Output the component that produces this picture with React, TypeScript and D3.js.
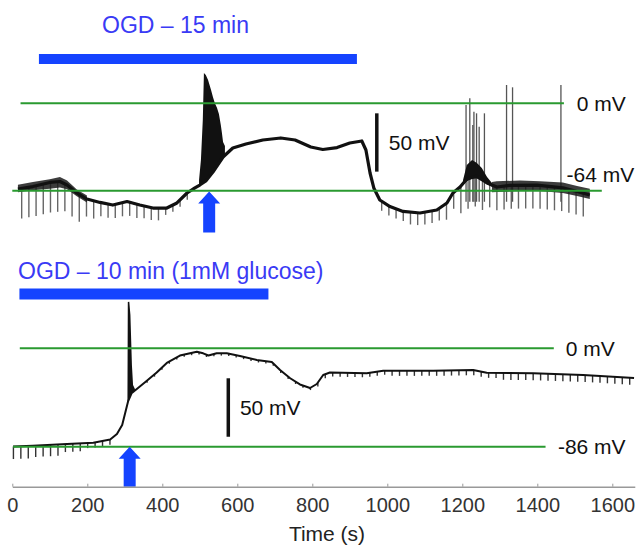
import { useEffect, useRef } from "react";
import * as d3 from "d3";

type P = [number, number];
type B = [number, number, number];

// top recording (OGD 15 min): [time s, membrane potential mV]
const topTrace: P[] = [
  [15, -62.7], [55, -60.9], [100, -57.9], [127, -57.2], [146, -59.8], [172, -65.6],
  [199, -70.0], [234, -72.5], [268, -74.4], [306, -71.8], [340, -74.4], [375, -76.6],
  [412, -76.6], [439, -72.9], [466, -65.6], [487, -61.9], [500, -59.8], [516, -56.8],
  [535, -50.3], [562, -39.3], [588, -32.7], [623, -29.8], [668, -26.9], [716, -25.4],
  [754, -26.9], [796, -32.0], [828, -33.8], [866, -32.4], [900, -29.1], [932, -27.6],
  [943, -34.2], [954, -51.0], [964, -61.9], [980, -70.7], [1007, -75.5], [1042, -79.1],
  [1087, -80.2], [1132, -78.0], [1159, -72.9], [1175, -65.6], [1194, -61.2], [1212, -55.4],
  [1239, -53.2], [1266, -58.3], [1292, -61.2], [1327, -60.1], [1399, -59.8], [1468, -61.9],
  [1506, -64.5], [1540, -67.1],
];
// burst of spikes at the anoxic depolarization: [t, lower, upper]
const topBurst: B[] = [
  [498, -61, -56.1], [503, -59.5, -41.5], [508, -58.5, -12.3], [511, -57.8, 22.1],
  [516, -56.8, 20.6], [522, -55, 16.9], [530, -52.5, 9.6], [535, -50.3, 4.5],
  [540, -47.5, 0.1], [546, -45, -3.5], [551, -43.5, -7.9], [556, -41.5, -15.9],
  [559, -40.5, -21.8], [562, -39.3, -28.3], [567, -37, -31.3],
];
const topBurstLate: B[] = [
  [1202, -60, -56.1], [1212, -57, -45.1], [1226, -55, -41.5], [1239, -55, -43.7],
  [1252, -57, -47.3], [1266, -59, -53.9], [1279, -61, -58.3],
];
// noisy stretches of the trace: [t, lower, upper]
const topNoiseEarly: B[] = [
  [15, -65, -59.5], [55, -63.6, -57.5], [100, -62.5, -55.5], [127, -61.5, -54],
  [146, -62.8, -56.5], [172, -68, -63], [199, -72.5, -67.5],
];
const topNoiseLate: B[] = [
  [1279, -65, -57.5], [1292, -64.9, -57], [1354, -64.1, -56.5], [1407, -64.1, -57],
  [1468, -65.6, -58], [1506, -67.8, -60.5], [1540, -70.0, -62.5],
];
// single action potentials: [t, peak mV]
const topSpikes: P[] = [
  [1210, -1.3], [1220, 3.6], [1228, -15.9], [1231, -6.2], [1238, -7.4], [1245, -17.2],
  [1259, -7.4], [1318, 13.3], [1334, 11.6], [1463, 13.3],
];
// hyperpolarizing test pulses: response depth (mV) by period
const topPulseStart = 25;
const topPulseEvery = 19.2;
const topPulseBreaks = [130, 180, 235, 340, 395, 470, 985, 1060, 1140, 1180, 1210, 1270];
const topPulseDepths = [22, 20, 13, 10, 9, 5, 0, 7, 9, 12, 20, 22, 17];

// bottom recording (OGD 10 min, 1mM glucose)
const bottomTrace: P[] = [
  [2, -85.8], [55, -85.1], [146, -83.6], [216, -82.5], [261, -79.7], [279, -74.9],
  [293, -67.0], [301, -56.5], [309, -46.1], [318, -39.3], [332, -35.6], [358, -28.6],
  [385, -21.2], [412, -12.8], [447, -6.3], [492, -3.0], [509, -4.4], [523, -6.3],
  [545, -4.4], [572, -4.4], [607, -6.7], [652, -10.2], [692, -12.0], [714, -19.0],
  [741, -26.2], [767, -31.6], [794, -34.7], [812, -31.2], [829, -23.3], [847, -21.2],
  [945, -21.9], [989, -19.6], [1122, -19.6], [1229, -19.0], [1265, -21.3], [1389, -21.9],
  [1522, -23.3], [1658, -26.0],
];
const bottomSpike: B[] = [
  [307, -49, -49], [308, -47.8, 40.5], [312, -44.3, 40.7], [315, -42.1, 29.1],
  [317, -40.4, 7.3], [319, -39.1, -14.6], [322, -38.2, -32.1], [327, -36.4, -35.5],
];
const bottomPulseStart = 3;
const bottomPulseEvery = 19.8;
const bottomPulseBreaks = [60, 130, 200, 270, 340, 800, 1000, 1300];
const bottomPulseDepths = [11, 10, 7, 4.5, 0, 2, 3.5, 4.5, 6];

const timeTicks = [0, 200, 400, 600, 800, 1000, 1200, 1400, 1600];
const ogdTop: P = [71, 919];
const ogdBottom: P = [19, 683];
const arrowTimes = [525, 313];

const W = 641;
const H = 545;

export default function App() {
  const ref = useRef<SVGSVGElement>(null);

  useEffect(() => {
    const svg = d3.select(ref.current);
    svg.selectAll("*").remove();
    const font = "'Liberation Sans', Arial, sans-serif";
    const blue = "#1543ff";
    const green = "#2a9a30";

    const x = d3.scaleLinear().domain([0, 1600]).range([12.3, 612.3]);
    const yTop = d3.scaleLinear().domain([-64, 0]).range([190.8, 103.2]);
    const yBot = d3.scaleLinear().domain([-86, 0]).range([446.7, 348.3]);

    const valueAt = (trace: P[], t: number) => {
      const i = Math.max(1, Math.min(trace.length - 1, d3.bisector((d: P) => d[0]).left(trace, t)));
      const [t0, v0] = trace[i - 1];
      const [t1, v1] = trace[i];
      return v0 + ((v1 - v0) * (t - t0)) / (t1 - t0);
    };

    const panel = (o: any) => {
      const g = svg.append("g");
      const y = o.y;
      const area = d3.area<B>().x((d) => x(d[0])).y0((d) => y(d[1])).y1((d) => y(d[2]));
      const line = d3.line<P>().x((d) => x(d[0])).y((d) => y(d[1]));

      // test pulses
      const depth = d3.scaleThreshold<number, number>().domain(o.breaks).range(o.depths);
      const last = o.trace[o.trace.length - 1][0];
      const times = d3.range(o.pulseStart, last, o.pulseEvery).filter((t) => depth(t) > 0);
      g.append("g")
        .selectAll("line")
        .data(times)
        .join("line")
        .attr("x1", (t) => x(t))
        .attr("x2", (t) => x(t))
        .attr("y1", (t) => y(valueAt(o.trace, t)))
        .attr("y2", (t) => y(valueAt(o.trace, t) - depth(t)))
        .attr("stroke", o.pulseColor)
        .attr("stroke-width", 1.4);

      // spikes
      g.append("g")
        .selectAll("line")
        .data(o.spikes as P[])
        .join("line")
        .attr("x1", (d) => x(d[0]))
        .attr("x2", (d) => x(d[0]))
        .attr("y1", y(-72))
        .attr("y2", (d) => y(d[1]))
        .attr("stroke", "#555")
        .attr("stroke-width", 1.3);

      g.append("g")
        .selectAll("path")
        .data(o.bursts as B[][])
        .join("path")
        .attr("d", (d) => area(d))
        .attr("fill", "#111");

      g.append("g")
        .selectAll("path")
        .data(o.noise as B[][])
        .join("path")
        .attr("d", (d) => area(d))
        .attr("fill", "#1a1a1a")
        .attr("fill-opacity", 0.85);

      g.append("path")
        .attr("d", line(o.trace))
        .attr("fill", "none")
        .attr("stroke", "#111")
        .attr("stroke-width", o.traceWidth)
        .attr("stroke-linejoin", "round");

      // reference levels
      o.levels.forEach((lv: any) => {
        g.append("line")
          .attr("x1", x(lv.from))
          .attr("x2", x(lv.to))
          .attr("y1", y(lv.mv))
          .attr("y2", y(lv.mv))
          .attr("stroke", green)
          .attr("stroke-width", 2);
        g.append("text")
          .attr("x", x(lv.labelT))
          .attr("y", y(lv.labelMv))
          .attr("dy", "0.35em")
          .attr("font-family", font)
          .attr("font-size", 21)
          .attr("fill", "#111")
          .text(lv.label);
      });

      // 50 mV scale bar
      g.append("line")
        .attr("x1", x(o.bar.t))
        .attr("x2", x(o.bar.t))
        .attr("y1", y(o.bar.from))
        .attr("y2", y(o.bar.to))
        .attr("stroke", "#111")
        .attr("stroke-width", 3.5);
      g.append("text")
        .attr("x", x(o.bar.labelT))
        .attr("y", y((o.bar.from + o.bar.to) / 2))
        .attr("dy", "0.35em")
        .attr("font-family", font)
        .attr("font-size", 21)
        .attr("fill", "#111")
        .text("50 mV");

      // OGD period
      g.append("rect")
        .attr("x", x(o.ogd[0]))
        .attr("width", x(o.ogd[1]) - x(o.ogd[0]))
        .attr("y", o.barY)
        .attr("height", o.barH)
        .attr("fill", blue);
      g.append("text")
        .attr("x", o.titleX)
        .attr("y", o.titleY)
        .attr("font-family", font)
        .attr("font-size", 23)
        .attr("fill", "#3a3af5")
        .text(o.title);

      // arrow at onset
      const ax = x(o.arrowT);
      const ay = o.arrowTip;
      const len = o.arrowLen;
      g.append("polygon")
        .attr(
          "points",
          [
            [ax, ay], [ax + 11, ay + 12], [ax + 6, ay + 12], [ax + 6, ay + len],
            [ax - 6, ay + len], [ax - 6, ay + 12], [ax - 11, ay + 12],
          ].join(" ")
        )
        .attr("fill", blue);
    };

    panel({
      y: yTop,
      trace: topTrace,
      bursts: [topBurst, topBurstLate],
      noise: [topNoiseEarly, topNoiseLate],
      spikes: topSpikes,
      pulseStart: topPulseStart,
      pulseEvery: topPulseEvery,
      breaks: topPulseBreaks,
      depths: topPulseDepths,
      pulseColor: "#666",
      traceWidth: 3.2,
      levels: [
        { mv: 0, from: 22, to: 1471, label: "0 mV", labelT: 1505, labelMv: 0 },
        { mv: -64, from: 0, to: 1572, label: "-64 mV", labelT: 1478, labelMv: -52.4 },
      ],
      bar: { t: 972, from: -7.4, to: -50, labelT: 1004 },
      ogd: ogdTop,
      barY: 54,
      barH: 10,
      title: "OGD – 15 min",
      titleX: 102,
      titleY: 33,
      arrowT: arrowTimes[0],
      arrowTip: 191.5,
      arrowLen: 41,
    });

    panel({
      y: yBot,
      trace: bottomTrace,
      bursts: [bottomSpike],
      noise: [],
      spikes: [],
      pulseStart: bottomPulseStart,
      pulseEvery: bottomPulseEvery,
      breaks: bottomPulseBreaks,
      depths: bottomPulseDepths,
      pulseColor: "#333",
      traceWidth: 2,
      levels: [
        { mv: 0, from: 20, to: 1444, label: "0 mV", labelT: 1476, labelMv: 0 },
        { mv: -86, from: 2, to: 1422, label: "-86 mV", labelT: 1455, labelMv: -86 },
      ],
      bar: { t: 576, from: -26.2, to: -77.3, labelT: 607 },
      ogd: ogdBottom,
      barY: 288.5,
      barH: 11,
      title: "OGD – 10 min (1mM glucose)",
      titleX: 18,
      titleY: 279,
      arrowT: arrowTimes[1],
      arrowTip: 446.7,
      arrowLen: 40,
    });

    // time axis
    const xa = d3.scaleLinear().domain([0, 1660]).range([x(0), x(1660)]);
    const axis = svg
      .append("g")
      .attr("transform", "translate(0,486.7)")
      .call(d3.axisBottom(xa).tickValues(timeTicks).tickFormat(d3.format("d")).tickSizeInner(-3).tickSizeOuter(0).tickPadding(11));
    axis.select(".domain").attr("stroke", "#999").attr("stroke-width", 1.5);
    axis.selectAll(".tick line").attr("stroke", "#999");
    axis.selectAll(".tick text").attr("font-family", font).attr("font-size", 20).attr("fill", "#333");
    svg
      .append("text")
      .attr("x", 327)
      .attr("y", 541)
      .attr("text-anchor", "middle")
      .attr("font-family", font)
      .attr("font-size", 21)
      .attr("fill", "#222")
      .text("Time (s)");
  }, []);

  return (
    <svg
      ref={ref}
      width={W}
      height={H}
      style={{ position: "absolute", left: 0, top: 0, background: "#fff" }}
    />
  );
}
